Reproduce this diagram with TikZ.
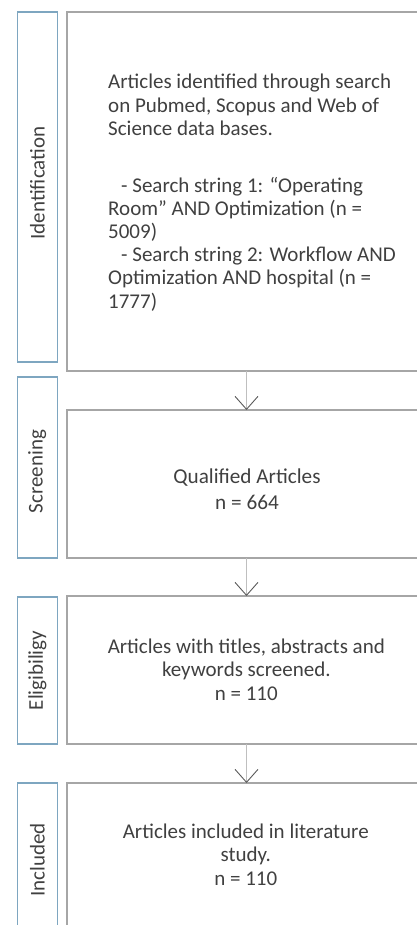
\documentclass[tikz,border=0pt]{standalone}
\usepackage{fontspec}
\setmainfont{Carlito}
\usetikzlibrary{arrows.meta}
\definecolor{txtgray}{HTML}{404040}
\definecolor{boxgray}{HTML}{A6A6A6}
\definecolor{sideblue}{HTML}{7EA6C0}
\definecolor{shaftgray}{HTML}{BFBFBF}
\definecolor{tipgray}{HTML}{595959}

\begin{document}
\begin{tikzpicture}[x=1pt,y=-1pt,
  mainbox/.style={draw=boxgray, line width=1.1pt, minimum width=359pt, anchor=north west, inner sep=0pt, outer sep=0pt},
  sidebox/.style={draw=sideblue, line width=1.1pt, minimum width=40pt, anchor=north west, inner sep=0pt, outer sep=0pt},
  sidetext/.style={text=txtgray, rotate=90, inner sep=0pt, font=\fontsize{21}{25}\selectfont},
  bodytext/.style={text=txtgray, align=center, inner sep=0pt, font=\fontsize{21}{23.2}\selectfont},
  bigtext/.style={bodytext, font=\fontsize{21.2}{25.7}\selectfont},
  flow/.style={draw=shaftgray, line width=0.8pt,
    -{Straight Barb[length=13pt,width=23pt,color=tipgray,line width=0.9pt]}}
]
\useasboundingbox (0,0) rectangle (417,925);
\clip (0,0) rectangle (417,925);

% stage labels on the left
\node[sidebox, minimum height=350pt] (sid)  at (17.3,12)  {};
\node[sidebox, minimum height=181pt] (sscr) at (17.3,377) {};
\node[sidebox, minimum height=147pt] (seli) at (17.3,597) {};
\node[sidebox, minimum height=200pt] (sinc) at (17.3,783) {};
\node[sidetext] (lid)  at (37.3,183)   {Identification};
\node[sidetext] (lscr) at (37.3,471.5) {Screening};
\node[sidetext] (leli) at (seli.center) {Eligibiligy};
\node[sidetext] (linc) at (37.3,860)   {Included};

% flow boxes (they run past the right and bottom edges)
\node[mainbox, minimum height=359pt] (id)  at (67,12)  {};
\node[mainbox, minimum height=148pt] (scr) at (67,410) {};
\node[mainbox, minimum height=148pt] (eli) at (67,596) {};
\node[mainbox, minimum height=200pt] (inc) at (67,783) {};

% box texts (base anchor sits on the last line)
\node[bodytext, align=left, anchor=base west] (tid) at (108,308)
  {Articles identified through search\\
   on Pubmed, Scopus and Web of\\
   Science data bases.\\[33.5pt]
   \hspace*{13pt}- Search string 1: “Operating\\
   Room” AND Optimization (n =\\
   5009)\\
   \hspace*{13pt}- Search string 2: Workflow AND\\
   Optimization AND hospital (n =\\
   1777)};
\node[bigtext, anchor=base] (tscr) at (247,509)
  {Qualified Articles\\ n = 664};
\node[bodytext, anchor=base] (teli) at (246.3,700)
  {Articles with titles, abstracts and\\ keywords screened.\\ n = 110};
\node[bodytext, anchor=base] (tinc) at (245.8,885)
  {Articles included in literature\\ study.\\ n = 110};

% connectors
\draw[flow] (id.south)  -- (scr.north);
\draw[flow] (scr.south) -- (eli.north);
\draw[flow] (eli.south) -- (inc.north);
\end{tikzpicture}
\end{document}
